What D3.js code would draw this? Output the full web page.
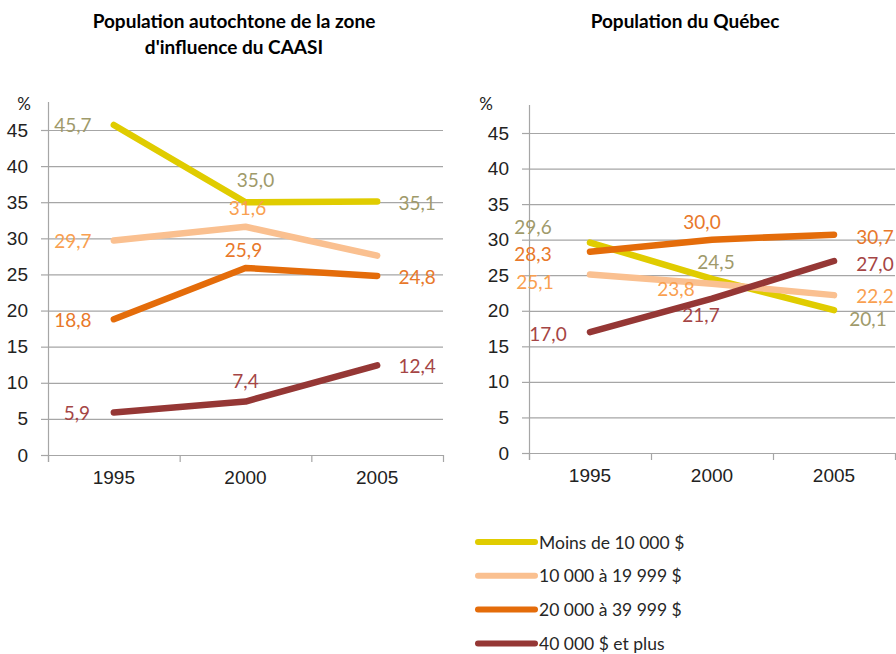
<!DOCTYPE html>
<html>
<head>
<meta charset="utf-8">
<script src="https://cdn.jsdelivr.net/npm/d3@7"></script>
<style>
  body { margin: 0; background: #fff; }
  svg { font-family: Lato, "Open Sans", sans-serif; }
  .title { font-weight: bold; font-size: 19px; fill: #000; }
  .tick text { font-size: 19px; fill: #222; }
</style>
</head>
<body>
<svg width="896" height="654"></svg>
<script>
var width = 896,
    height = 654;

// categories
var years = ["1995", "2000", "2005"];
var seriesNames = ["Moins de 10 000 $", "10 000 à 19 999 $", "20 000 à 39 999 $", "40 000 $ et plus"];
var yTicks = [0, 5, 10, 15, 20, 25, 30, 35, 40, 45];

// values (%)
var caasiValues = [
  [45.7, 35.0, 35.1],
  [29.7, 31.6, 27.6],
  [18.8, 25.9, 24.8],
  [5.9, 7.4, 12.4]
];
var quebecValues = [
  [29.6, 24.5, 20.1],
  [25.1, 23.8, 22.2],
  [28.3, 30.0, 30.7],
  [17.0, 21.7, 27.0]
];

// which labels are shown
var caasiShown = [[1, 1, 1], [1, 1, 0], [1, 1, 1], [1, 1, 1]];
var quebecShown = [[1, 1, 1], [1, 1, 1], [1, 1, 1], [1, 1, 1]];

// label nudges [dx, dy] from the point
var caasiNudge = [
  [[-41, 0], [10, -23], [40, 1]],
  [[-41, 0], [2, -19], [0, 0]],
  [[-41, 0], [-2, -18], [40, 1]],
  [[-37, 0], [0, -21], [40, 0]]
];
var quebecNudge = [
  [[-57, -16], [4, -17], [34, 8]],
  [[-55, 7], [-36, 5], [41, 0]],
  [[-57, 2], [-10, -18], [41, 2]],
  [[-42, 1], [-11, 16], [41, 2]]
];

var lineColors = ["#e0cc00", "#fac090", "#e46c0a", "#953735"];
var labelColors = ["#a09a6a", "#f9a050", "#e8782a", "#a54545"];

var svg = d3.select("svg");

function drawPanel(opts) {
  var g = svg.append("g");

  var x = d3.scaleBand().domain(years).range([opts.left, opts.right]);
  var y = d3.scaleLinear().domain([0, 45]).range([opts.bottom, opts.top]);

  // gridlines
  g.append("g")
    .selectAll("line")
    .data(yTicks)
    .enter().append("line")
      .attr("x1", opts.left)
      .attr("x2", opts.right)
      .attr("y1", function (d) { return y(d) + 0.5; })
      .attr("y2", function (d) { return y(d) + 0.5; })
      .attr("stroke", "#a6a6a6")
      .attr("stroke-width", 1.2);

  // y axis
  var yAxis = g.append("g")
    .attr("transform", "translate(" + opts.left + ",0)")
    .call(d3.axisLeft(y).tickValues(yTicks).tickSize(7).tickPadding(13)
      .tickFormat(d3.format("d")));
  yAxis.select(".domain").remove();
  yAxis.selectAll(".tick line").attr("stroke", "#a6a6a6").attr("stroke-width", 1.2);

  g.append("line")
    .attr("x1", opts.left + 0.5).attr("x2", opts.left + 0.5)
    .attr("y1", opts.axisTop).attr("y2", opts.bottom + 7)
    .attr("stroke", "#a6a6a6").attr("stroke-width", 1.2);

  // x axis
  var xAxis = g.append("g")
    .attr("transform", "translate(0," + opts.bottom + ")")
    .call(d3.axisBottom(x).tickSize(0).tickPadding(16));
  xAxis.select(".domain").remove();

  g.append("g")
    .selectAll("line")
    .data(years.concat(["end"]))
    .enter().append("line")
      .attr("x1", function (d, i) { return (i < 3 ? x(d) : opts.right) + 0.5; })
      .attr("x2", function (d, i) { return (i < 3 ? x(d) : opts.right) + 0.5; })
      .attr("y1", opts.bottom)
      .attr("y2", opts.bottom + 7)
      .attr("stroke", "#a6a6a6").attr("stroke-width", 1.2);

  // "%" label
  g.append("text")
    .attr("x", opts.pctX)
    .attr("y", opts.pctY)
    .attr("text-anchor", "middle")
    .style("font-size", "17px")
    .attr("fill", "#222")
    .text("%");

  // title
  var title = g.append("text")
    .attr("class", "title")
    .attr("x", opts.titleX)
    .attr("y", 28)
    .attr("text-anchor", "middle");
  opts.title.forEach(function (t, i) {
    title.append("tspan")
      .attr("x", opts.titleX)
      .attr("dy", i === 0 ? 0 : 26)
      .text(t);
  });

  var line = d3.line()
    .x(function (d, i) { return x(years[i]) + x.bandwidth() / 2; })
    .y(function (d) { return y(d); });

  g.append("g")
    .selectAll("path")
    .data(opts.values)
    .enter().append("path")
      .attr("d", line)
      .attr("fill", "none")
      .attr("stroke", function (d, i) { return lineColors[i]; })
      .attr("stroke-width", 6.5)
      .attr("stroke-linecap", "round")
      .attr("stroke-linejoin", "round");

  // data labels
  var fmt = function (v) { return d3.format(".1f")(v).replace(".", ","); };
  opts.values.forEach(function (vals, s) {
    vals.forEach(function (v, i) {
      if (!opts.shown[s][i]) { return; }
      var nd = opts.nudge[s][i];
      g.append("text")
        .attr("x", x(years[i]) + x.bandwidth() / 2 + nd[0])
        .attr("y", y(v) + nd[1])
        .attr("text-anchor", "middle")
        .attr("dominant-baseline", "central")
        .attr("fill", labelColors[s])
        .style("font-size", "19px")
        .text(fmt(v));
    });
  });
}

drawPanel({
  left: 48, right: 443, top: 130, bottom: 455, axisTop: 102,
  pctX: 24, pctY: 110, titleX: 234,
  title: ["Population autochtone de la zone", "d'influence du CAASI"],
  values: caasiValues, shown: caasiShown, nudge: caasiNudge
});

drawPanel({
  left: 529, right: 895, top: 133, bottom: 453, axisTop: 105,
  pctX: 486, pctY: 110, titleX: 685,
  title: ["Population du Québec"],
  values: quebecValues, shown: quebecShown, nudge: quebecNudge
});

// legend
var legend = svg.append("g")
  .selectAll("g")
  .data(seriesNames)
  .enter().append("g")
    .attr("transform", function (d, i) { return "translate(478," + (542 + i * 33.8) + ")"; });

legend.append("line")
  .attr("x1", 0).attr("x2", 57)
  .attr("stroke", function (d, i) { return lineColors[i]; })
  .attr("stroke-width", 6)
  .attr("stroke-linecap", "round");

legend.append("text")
  .attr("x", 61)
  .attr("dominant-baseline", "central")
  .style("font-size", "17.5px")
  .attr("fill", "#262626")
  .text(function (d) { return d; });
</script>
</body>
</html>
